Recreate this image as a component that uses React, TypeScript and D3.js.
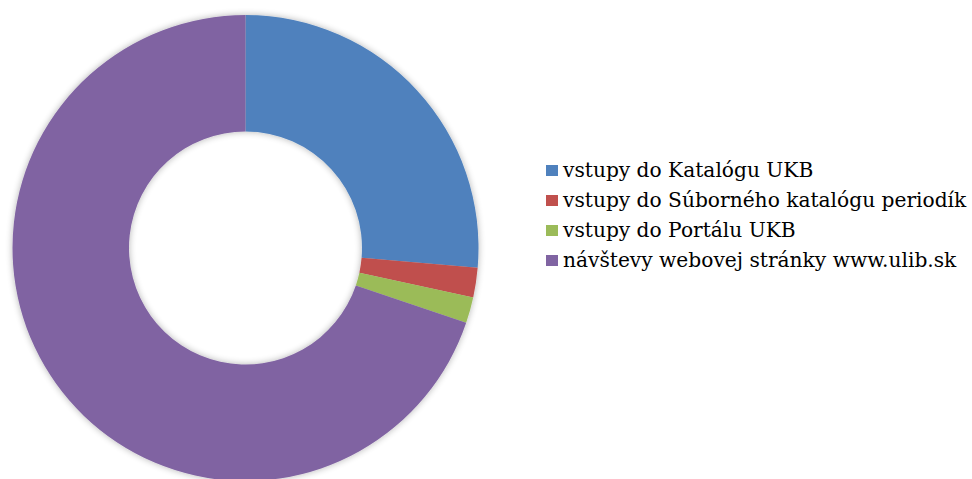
import React from "react";
import * as d3 from "d3";

const categories = [
  "vstupy do Katalógu UKB",
  "vstupy do Súborného katalógu periodík",
  "vstupy do Portálu UKB",
  "návštevy webovej stránky www.ulib.sk",
];
const values = [26.35, 2.05, 1.8, 69.8];
const colors = ["#4F81BD", "#C0504D", "#9BBB59", "#8064A2"];

const W = 972;
const H = 479;
const cx = 245.5;
const cy = 248;
const outerR = 233;
const innerR = 116.5;

export default function App() {
  const pie = d3.pie<number>().sort(null).value((d) => d)(values);
  const arc = d3.arc<d3.PieArcDatum<number>>().innerRadius(innerR).outerRadius(outerR);
  const legendX = 546;
  const legendY0 = 177;
  const legendStep = 30;
  return (
    <svg width={W} height={H} style={{ position: "absolute", left: 0, top: 0 }}>
      <defs>
        <filter id="sh" x="-10%" y="-10%" width="120%" height="120%">
          <feGaussianBlur in="SourceAlpha" stdDeviation="3.5" />
          <feOffset dx="0" dy="0" result="b" />
          <feComponentTransfer>
            <feFuncA type="linear" slope="0.3" />
          </feComponentTransfer>
          <feMerge>
            <feMergeNode />
            <feMergeNode in="SourceGraphic" />
          </feMerge>
        </filter>
      </defs>
      <rect width={W} height={H} fill="#fff" />
      <g transform={`translate(${cx},${cy})`} filter="url(#sh)">
        {pie.map((p, i) => (
          <path key={i} d={arc(p) || ""} fill={colors[i]} />
        ))}
      </g>
      <g>
        {categories.map((c, i) => (
          <g key={c}>
            <rect x={legendX} y={legendY0 + i * legendStep - 12} width={12} height={11} fill={colors[i]} />
            <text
              x={563}
              y={legendY0 + i * legendStep}
              fontFamily="'DejaVu Serif', serif"
              fontSize={20.2}
              fill="#000"
            >
              {c}
            </text>
          </g>
        ))}
      </g>
    </svg>
  );
}
